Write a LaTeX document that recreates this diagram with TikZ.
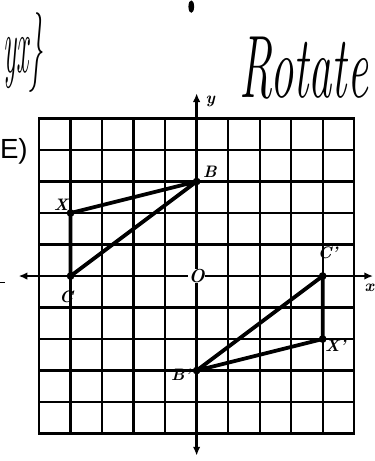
\documentclass[tikz,border=0pt]{standalone}
\usepackage{fontspec}
\newfontfamily\headfont{Liberation Sans}
\newcommand*{\xMin}{-5}
\newcommand*{\xMax}{5}
\newcommand*{\yMin}{-5}
\newcommand*{\yMax}{5}
\usetikzlibrary{positioning}
\usetikzlibrary{arrows.meta}
\tikzset{
  gridline/.style={line width=2pt,line cap=rect},
  axis/.style={line width=2.2pt,{Latex[length=2.8mm,width=2.4mm]}-{Latex[length=2.8mm,width=2.4mm]}},
  side/.style={line width=3.4pt,line cap=round,line join=round},
  vertex/.style={circle,fill=black,inner sep=0pt,minimum size=7pt},
  ptlabel/.style={font=\fontsize{15}{15}\selectfont\bfseries\itshape,inner sep=0pt},
  scrawl/.style={font=\fontsize{40}{40}\selectfont\itshape,inner sep=0pt}
}

\begin{document}
\begin{tikzpicture}
    \useasboundingbox (-6.24,-5.87) rectangle (5.63,8.76);
    \foreach \i in {\xMin,...,\xMax} {
        \draw [gridline] (\i,\yMin) -- (\i,\yMax);
    }
    \foreach \i in {\yMin,...,\yMax} {
        \draw [gridline] (\xMin,\i) -- (\xMax,\i);
    }
    % axes
    \coordinate (xl) at (-5.65,0);
    \coordinate (xr) at (5.6,0);
    \coordinate (yb) at (0,-5.7);
    \coordinate (yt) at (0,5.8);
    \draw [axis] (xl) -- (xr);
    \draw [axis] (yb) -- (yt);
    \node [ptlabel] (xlab) at (5.48,-0.38) {x};
    \node [ptlabel] (ylab) at (0.43,5.55) {y};
    \node [font=\fontsize{17}{17}\selectfont\bfseries\itshape,fill=white,inner sep=0.2pt] (O) at (0,0) {O};
    % triangle XBC
    \node [vertex] (B) at (0,3) {};
    \node [vertex] (X) at (-4,2) {};
    \node [vertex] (C) at (-4,0) {};
    \draw [side] (X.center) -- (B.center) -- (C.center) -- (X.center);
    \node [ptlabel] (Blab) at (0.42,3.3) {B};
    \node [ptlabel] (Xlab) at (-4.3,2.25) {X};
    \node [ptlabel] (Clab) at (-4.14,-0.65) {C};
    % rotated image
    \node [vertex] (B') at (0,-3) {};
    \node [vertex] (X') at (4,-2) {};
    \node [vertex] (C') at (4,0) {};
    \draw [side] (X'.center) -- (B'.center) -- (C'.center) -- (X'.center);
    \node [ptlabel] (B'lab) at (-0.5,-3.14) {B'};
    \node [ptlabel] (X'lab) at (4.4,-2.22) {X'};
    \node [ptlabel] (C'lab) at (4.16,0.75) {C'};
    % writing round the grid
    \node [font=\fontsize{25}{25}\selectfont\headfont,inner sep=0pt] (part) at (-5.8,3.97) {E)};
    \node [scrawl,xscale=1.05,yscale=2.0] (rot) at (3.4,6.6) {Rotate};
    \node [scrawl,xscale=0.62,yscale=1.8] (rule) at (-5.5,7.1) {yx\}};
    \draw [line width=1.4pt] (-6.24,-0.2) -- (-6.08,-0.2);
    \fill (-0.17,8.55) ellipse (0.09 and 0.2);
\end{tikzpicture}
\end{document}
